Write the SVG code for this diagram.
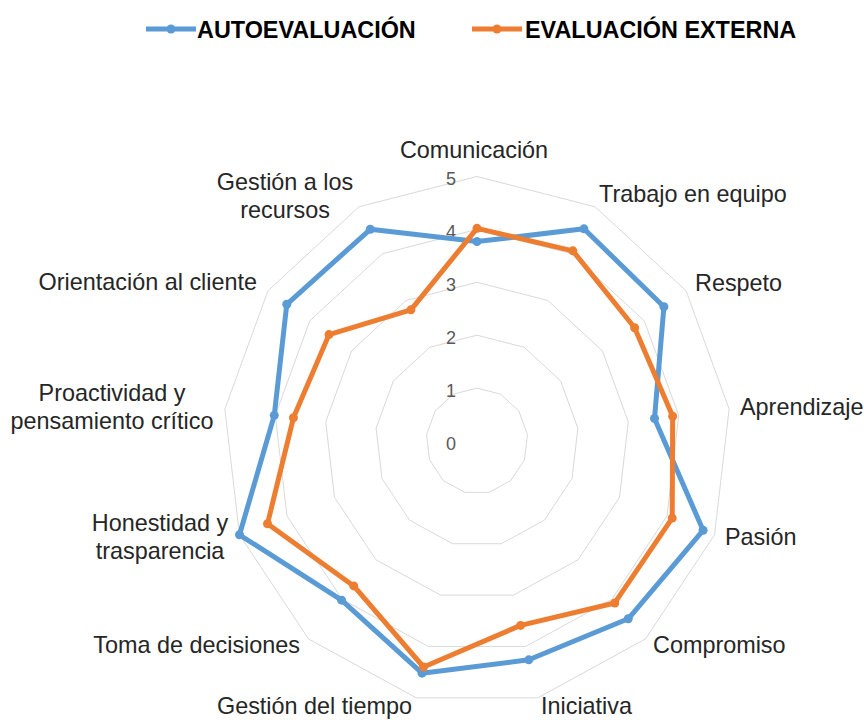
<svg xmlns="http://www.w3.org/2000/svg" width="864" height="720" viewBox="0 0 864 720">
<style>
.grid{fill:none;stroke:#d9d9d9;stroke-width:1}
.tick{font-family:"Liberation Sans",Arial,sans-serif;font-size:18px;fill:#595959;text-anchor:end}
.lbl{font-family:"Liberation Sans",Arial,sans-serif;font-size:23.4px;fill:#262626}
.leg{font-family:"Liberation Sans",Arial,sans-serif;font-size:23.4px;font-weight:bold;fill:#000}
.blue{fill:none;stroke:#5b9bd5;stroke-width:5;stroke-linejoin:round}
.orange{fill:none;stroke:#ed7d31;stroke-width:5;stroke-linejoin:round}
.bm{fill:#5b9bd5}
.om{fill:#ed7d31}
</style>
<rect width="864" height="720" fill="#fff"/>
<g id="legend">
<line x1="146" y1="29" x2="196" y2="29" class="blue"/>
<circle cx="171" cy="29" r="4.5" class="bm"/>
<text x="197" y="37.5" class="leg">AUTOEVALUACIÓN</text>
<line x1="472" y1="29" x2="522" y2="29" class="orange"/>
<circle cx="497" cy="29" r="4.5" class="om"/>
<text x="525" y="37.5" class="leg">EVALUACIÓN EXTERNA</text>
</g>
<g id="gridlines">
<polygon class="grid" points="477,388.1 500.61,394.16 518.81,410.95 527.43,434.62 524.5,459.76 510.69,480.6 489.16,492.36 464.84,492.36 443.31,480.6 429.5,459.76 426.57,434.62 435.19,410.95 453.39,394.16"/>
<polygon class="grid" points="477,335.2 524.22,347.32 560.61,380.9 577.86,428.25 572,478.52 544.37,520.19 501.31,543.73 452.69,543.73 409.63,520.19 382,478.52 376.14,428.25 393.39,380.9 429.78,347.32"/>
<polygon class="grid" points="477,282.3 547.82,300.48 602.42,350.85 628.29,421.87 619.5,497.27 578.06,559.79 513.47,595.09 440.53,595.09 375.94,559.79 334.5,497.27 325.71,421.87 351.58,350.85 406.18,300.48"/>
<polygon class="grid" points="477,229.4 571.43,253.64 644.23,320.8 678.72,415.49 667,516.03 611.74,599.38 525.63,646.45 428.37,646.45 342.26,599.38 287,516.03 275.28,415.49 309.77,320.8 382.57,253.64"/>
<polygon class="grid" points="477,176.5 595.04,206.8 686.04,290.75 729.15,409.12 714.5,534.79 645.43,638.98 537.79,697.82 416.21,697.82 308.57,638.98 239.5,534.79 224.85,409.12 267.97,290.75 358.96,206.8"/>
</g>
<g id="ticks">
<text x="456" y="185" class="tick">5</text>
<text x="456" y="238" class="tick">4</text>
<text x="456" y="291" class="tick">3</text>
<text x="456" y="344" class="tick">2</text>
<text x="456" y="397" class="tick">1</text>
<text x="456" y="450" class="tick">0</text>
</g>
<g id="labels">
<text x="474" y="158" class="lbl" text-anchor="middle">Comunicación</text>
<text x="599" y="202" class="lbl">Trabajo en equipo</text>
<text x="695" y="291" class="lbl">Respeto</text>
<text x="740" y="415" class="lbl">Aprendizaje</text>
<text x="725" y="545" class="lbl">Pasión</text>
<text x="653" y="653" class="lbl">Compromiso</text>
<text x="541" y="714" class="lbl">Iniciativa</text>
<text x="412" y="714" class="lbl" text-anchor="end">Gestión del tiempo</text>
<text x="300" y="653" class="lbl" text-anchor="end">Toma de decisiones</text>
<text x="160" y="531" class="lbl" text-anchor="middle">Honestidad y</text>
<text x="160" y="559" class="lbl" text-anchor="middle">trasparencia</text>
<text x="112" y="401" class="lbl" text-anchor="middle">Proactividad y</text>
<text x="112" y="429" class="lbl" text-anchor="middle">pensamiento crítico</text>
<text x="257" y="290" class="lbl" text-anchor="end">Orientación al cliente</text>
<text x="285" y="190" class="lbl" text-anchor="middle">Gestión a los</text>
<text x="285" y="218" class="lbl" text-anchor="middle">recursos</text>
</g>
<g id="series-autoevaluacion">
<polygon class="blue" points="477,241.6 583.94,228.81 663.9,306.7 654.51,418.55 703.1,530.29 628.25,618.79 528.79,659.81 422.05,673.16 341.58,600.18 239.5,534.79 274.27,415.36 286.78,304.27 370.29,229.28"/>
<g class="bm">
<circle cx="477" cy="241.6" r="4.5"/><circle cx="583.94" cy="228.81" r="4.5"/><circle cx="663.9" cy="306.7" r="4.5"/><circle cx="654.51" cy="418.55" r="4.5"/><circle cx="703.1" cy="530.29" r="4.5"/><circle cx="628.25" cy="618.79" r="4.5"/><circle cx="528.79" cy="659.81" r="4.5"/><circle cx="422.05" cy="673.16" r="4.5"/><circle cx="341.58" cy="600.18" r="4.5"/><circle cx="239.5" cy="534.79" r="4.5"/><circle cx="274.27" cy="415.36" r="4.5"/><circle cx="286.78" cy="304.27" r="4.5"/><circle cx="370.29" cy="229.28" r="4.5"/>
</g>
</g>
<g id="series-evaluacion-externa">
<polygon class="orange" points="477,228.34 572.85,250.83 634.61,327.71 672.67,416.26 672.22,518.1 614.78,602.95 520.64,625.39 423.51,667 353.71,585.92 267.53,523.72 293.43,417.79 329,334.62 410.9,309.85"/>
<g class="om">
<circle cx="477" cy="228.34" r="4.5"/><circle cx="572.85" cy="250.83" r="4.5"/><circle cx="634.61" cy="327.71" r="4.5"/><circle cx="672.67" cy="416.26" r="4.5"/><circle cx="672.22" cy="518.1" r="4.5"/><circle cx="614.78" cy="602.95" r="4.5"/><circle cx="520.64" cy="625.39" r="4.5"/><circle cx="423.51" cy="667" r="4.5"/><circle cx="353.71" cy="585.92" r="4.5"/><circle cx="267.53" cy="523.72" r="4.5"/><circle cx="293.43" cy="417.79" r="4.5"/><circle cx="329" cy="334.62" r="4.5"/><circle cx="410.9" cy="309.85" r="4.5"/>
</g>
</g>
</svg>
